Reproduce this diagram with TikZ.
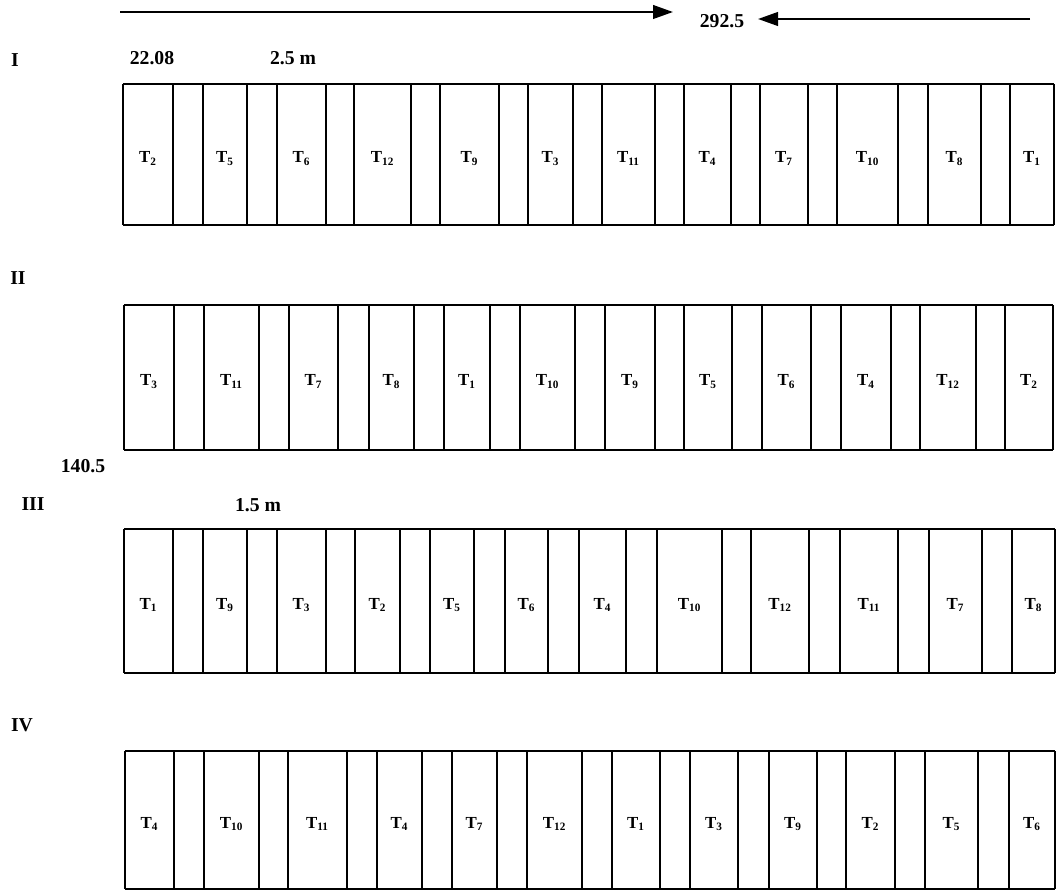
\documentclass[tikz,border=0pt]{standalone}
\usepackage{fontspec}
\setmainfont{Liberation Serif}
\usepackage{tikz}
\usetikzlibrary{arrows.meta,positioning}
\tikzset{
  borde/.style={line width=1.2pt},
  divisoria/.style={line width=1.8pt},
  trat/.style={font=\fontsize{12}{14}\selectfont\bfseries,inner sep=0pt},
  rotulo/.style={font=\fontsize{14}{16}\selectfont\bfseries,anchor=base,inner sep=0pt},
  flecha/.style={-{Triangle[length=5mm,width=3.4mm]},line width=1.6pt}
}

\begin{document}
\begin{tikzpicture}[x=0.025cm,y=-0.025cm]
\useasboundingbox (0,0) rectangle (1056,893);
% longitud total
\coordinate (ini) at (120,12);
\coordinate (finA) at (673,12);
\coordinate (fin) at (1030,19);
\coordinate (finB) at (758,19);
\draw[flecha] (ini) -- (finA);
\draw[flecha] (fin) -- (finB);
\node[rotulo] (total) at (722,28) {292.5};
% rotulos
\node[rotulo] (rI) at (15,67) {I};
\node[rotulo] (ancho) at (152,65) {22.08};
\node[rotulo] (calleA) at (293,65) {2.5 m};
\node[rotulo] (rII) at (18,284) {II};
\node[rotulo] (largo) at (83,472) {140.5};
\node[rotulo] (rIII) at (33,510) {III};
\node[rotulo] (calleB) at (258,511) {1.5 m};
\node[rotulo] (rIV) at (22,731) {IV};
% bloque I
\draw[borde] (123,84) -- (1054,84) (123,225) -- (1054,225);
\foreach \a/\b/\t [count=\i] in {123/173/2,203/247/5,277/326/6,354/411/12,440/499/9,528/573/3,
    602/655/11,684/731/4,760/808/7,837/898/10,928/981/8,1010/1054/1}{
  \draw[divisoria] (\a,84) -- (\a,225) (\b,84) -- (\b,225);
  \node[trat] (I-\i) at ({(\a+\b)/2},158.5) {T\textsubscript{\t}};
}
% bloque II
\draw[borde] (124,305) -- (1053,305) (124,450) -- (1053,450);
\foreach \a/\b/\t [count=\i] in {124/174/3,204/259/11,289/338/7,369/414/8,444/490/1,520/575/10,
    605/655/9,684/732/5,762/811/6,841/891/4,920/976/12,1005/1053/2}{
  \draw[divisoria] (\a,305) -- (\a,450) (\b,305) -- (\b,450);
  \node[trat] (II-\i) at ({(\a+\b)/2},381.5) {T\textsubscript{\t}};
}
% bloque III
\draw[borde] (124,529) -- (1055,529) (124,673) -- (1055,673);
\foreach \a/\b/\t [count=\i] in {124/173/1,203/247/9,277/326/3,355/400/2,430/474/5,505/548/6,
    579/626/4,657/722/10,751/809/12,840/898/11,929/982/7,1012/1055/8}{
  \draw[divisoria] (\a,529) -- (\a,673) (\b,529) -- (\b,673);
  \node[trat] (III-\i) at ({(\a+\b)/2},605) {T\textsubscript{\t}};
}
% bloque IV
\draw[borde] (125,751) -- (1055,751) (125,889) -- (1055,889);
\foreach \a/\b/\t [count=\i] in {125/174/4,204/259/10,288/347/11,377/422/4,452/497/7,527/582/12,
    612/660/1,690/738/3,769/817/9,846/895/2,925/978/5,1009/1055/6}{
  \draw[divisoria] (\a,751) -- (\a,889) (\b,751) -- (\b,889);
  \node[trat] (IV-\i) at ({(\a+\b)/2},824) {T\textsubscript{\t}};
}
\end{tikzpicture}
\end{document}
